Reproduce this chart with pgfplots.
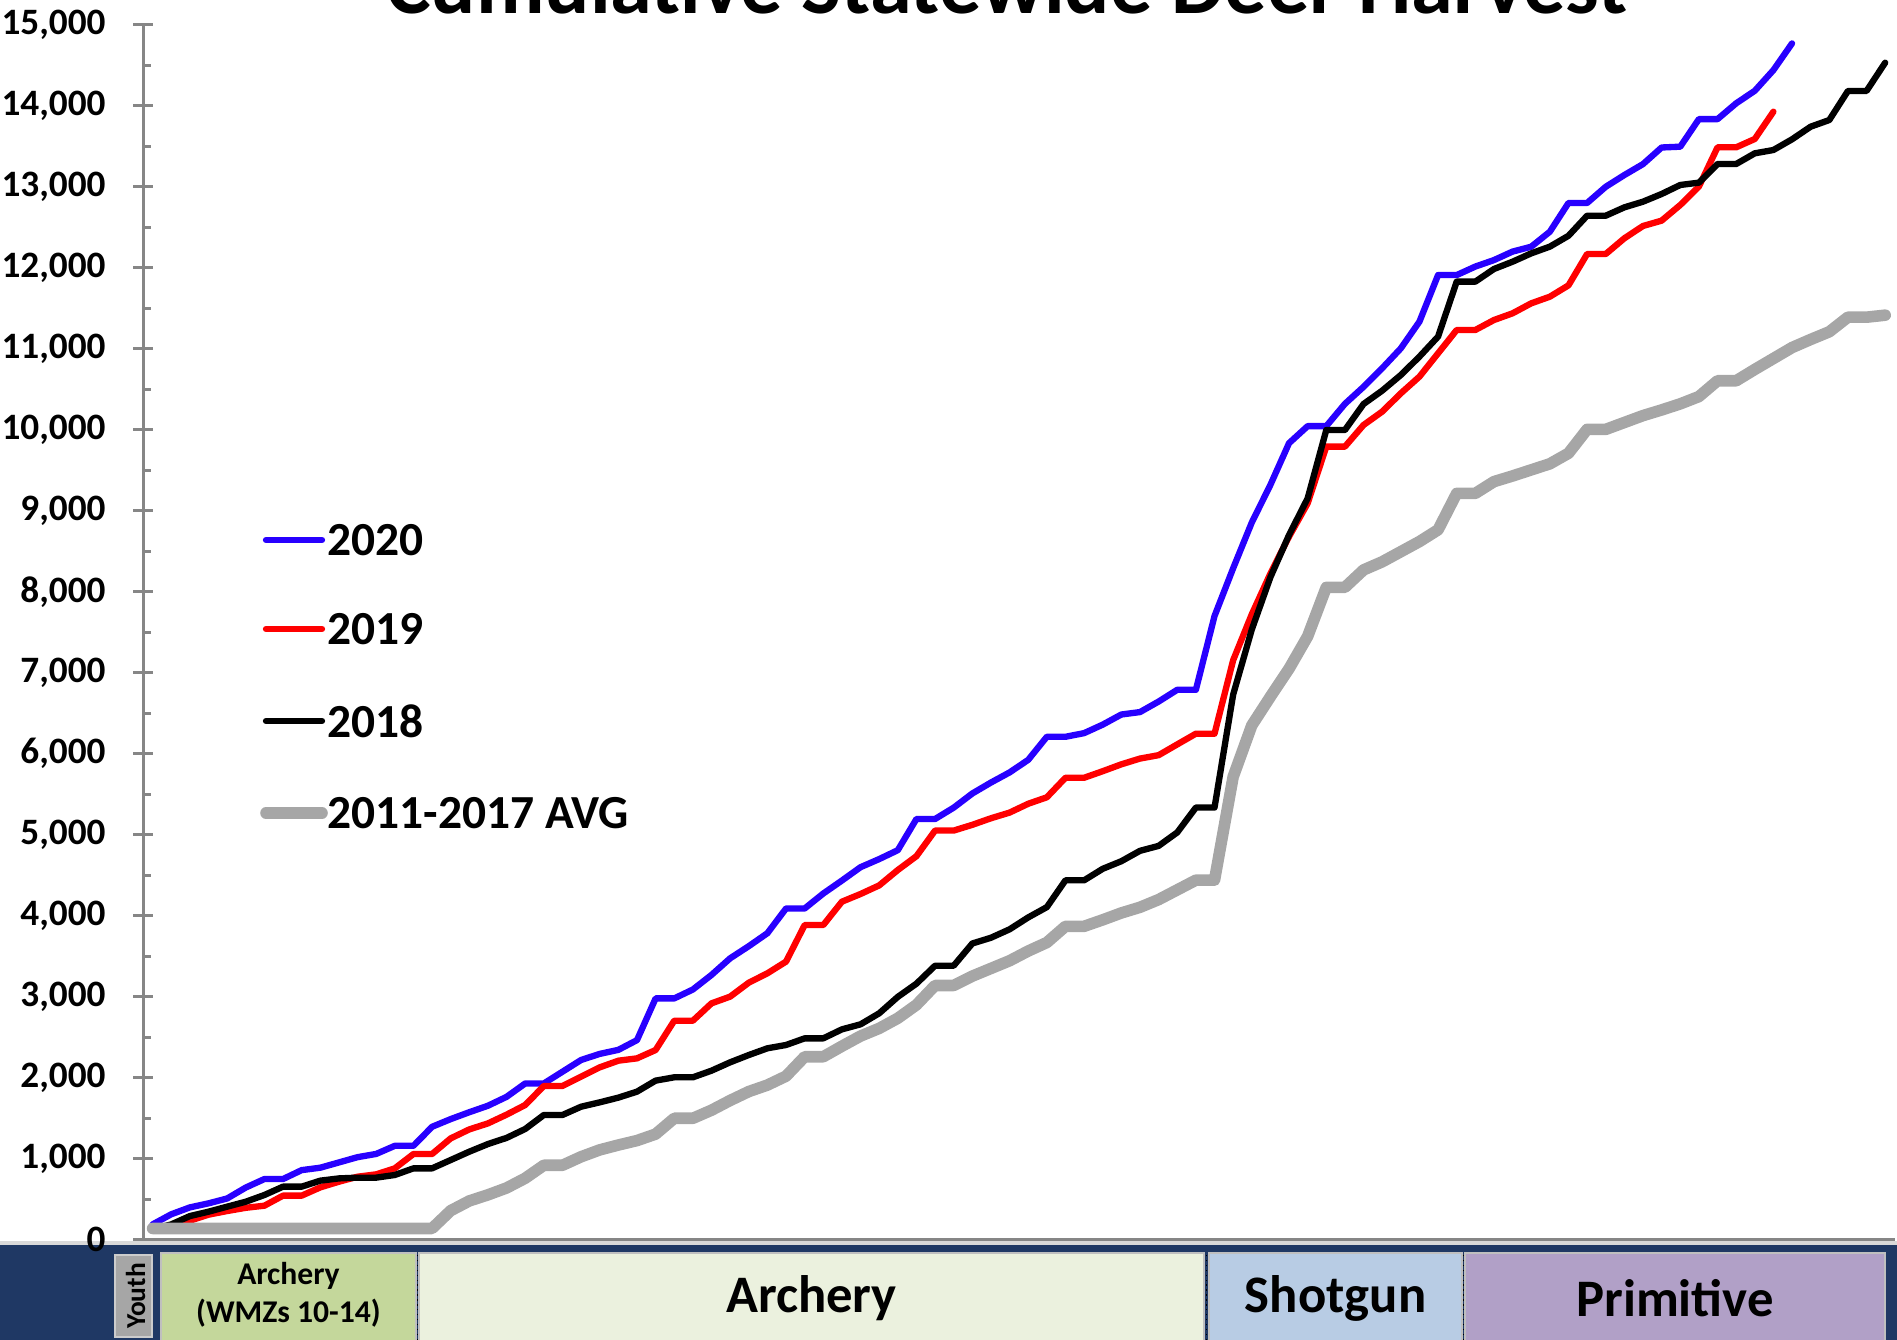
\documentclass[border=0pt]{standalone}
\usepackage{fontspec}
\setmainfont{Carlito}
\usepackage{pgfplots}
\usepackage{pgfplotstable}
\pgfplotsset{compat=1.18}

\definecolor{c2020}{HTML}{2800FF}
\definecolor{c2019}{HTML}{FF0000}
\definecolor{cavg}{HTML}{A6A6A6}
\definecolor{band}{HTML}{1F3864}
\definecolor{axgray}{HTML}{868686}
\definecolor{wmz}{HTML}{C4D79B}
\definecolor{arch}{HTML}{EBF1DE}
\definecolor{shot}{HTML}{B8CCE4}
\definecolor{prim}{HTML}{B1A0C7}

% day index, cumulative harvest
\pgfplotstableread[row sep=\\]{
i v\\
0 190\\ 1 315\\ 2 400\\ 3 450\\ 4 510\\ 5 645\\ 6 750\\ 7 750\\ 8 860\\ 9 890\\
10 955\\ 11 1020\\ 12 1060\\ 13 1160\\ 14 1160\\ 15 1395\\ 16 1490\\ 17 1575\\ 18 1655\\ 19 1765\\
20 1930\\ 21 1930\\ 22 2075\\ 23 2220\\ 24 2295\\ 25 2345\\ 26 2465\\ 27 2980\\ 28 2980\\ 29 3090\\
30 3270\\ 31 3475\\ 32 3625\\ 33 3785\\ 34 4090\\ 35 4090\\ 36 4275\\ 37 4435\\ 38 4600\\ 39 4700\\
40 4810\\ 41 5195\\ 42 5195\\ 43 5335\\ 44 5510\\ 45 5645\\ 46 5770\\ 47 5925\\ 48 6210\\ 49 6210\\
50 6255\\ 51 6360\\ 52 6485\\ 53 6515\\ 54 6645\\ 55 6790\\ 56 6790\\ 57 7700\\ 58 8290\\ 59 8855\\
60 9320\\ 61 9835\\ 62 10045\\ 63 10045\\ 64 10320\\ 65 10530\\ 66 10760\\ 67 11005\\ 68 11335\\ 69 11910\\
70 11910\\ 71 12015\\ 72 12095\\ 73 12200\\ 74 12260\\ 75 12445\\ 76 12800\\ 77 12800\\ 78 13000\\ 79 13145\\
80 13280\\ 81 13485\\ 82 13495\\ 83 13835\\ 84 13835\\ 85 14030\\ 86 14185\\ 87 14440\\ 88 14770\\
}\yrtwenty

\pgfplotstableread[row sep=\\]{
i v\\
0 140\\ 1 150\\ 2 236\\ 3 310\\ 4 355\\ 5 395\\ 6 421\\ 7 545\\ 8 545\\ 9 647\\
10 717\\ 11 779\\ 12 808\\ 13 882\\ 14 1059\\ 15 1059\\ 16 1252\\ 17 1363\\ 18 1437\\ 19 1545\\
20 1664\\ 21 1899\\ 22 1899\\ 23 2014\\ 24 2129\\ 25 2211\\ 26 2240\\ 27 2343\\ 28 2705\\ 29 2705\\
30 2919\\ 31 3002\\ 32 3174\\ 33 3290\\ 34 3434\\ 35 3886\\ 36 3886\\ 37 4174\\ 38 4269\\ 39 4375\\
40 4565\\ 41 4736\\ 42 5052\\ 43 5052\\ 44 5123\\ 45 5204\\ 46 5274\\ 47 5383\\ 48 5463\\ 49 5704\\
50 5704\\ 51 5785\\ 52 5870\\ 53 5941\\ 54 5983\\ 55 6116\\ 56 6248\\ 57 6248\\ 58 7155\\ 59 7722\\
60 8225\\ 61 8681\\ 62 9092\\ 63 9792\\ 64 9792\\ 65 10059\\ 66 10224\\ 67 10450\\ 68 10656\\ 69 10944\\
70 11232\\ 71 11232\\ 72 11355\\ 73 11438\\ 74 11561\\ 75 11643\\ 76 11783\\ 77 12170\\ 78 12170\\ 79 12364\\
80 12516\\ 81 12582\\ 82 12775\\ 83 13002\\ 84 13487\\ 85 13487\\ 86 13590\\ 87 13927\\
}\yrnineteen

\pgfplotstableread[row sep=\\]{
i v\\
0 130\\ 1 190\\ 2 293\\ 3 347\\ 4 409\\ 5 470\\ 6 553\\ 7 656\\ 8 656\\ 9 730\\
10 758\\ 11 767\\ 12 767\\ 13 800\\ 14 882\\ 15 882\\ 16 985\\ 17 1088\\ 18 1182\\ 19 1258\\
20 1368\\ 21 1541\\ 22 1541\\ 23 1643\\ 24 1697\\ 25 1755\\ 26 1829\\ 27 1965\\ 28 2006\\ 29 2006\\
30 2088\\ 31 2191\\ 32 2281\\ 33 2364\\ 34 2405\\ 35 2487\\ 36 2487\\ 37 2598\\ 38 2660\\ 39 2796\\
40 2999\\ 41 3162\\ 42 3384\\ 43 3384\\ 44 3658\\ 45 3729\\ 46 3833\\ 47 3980\\ 48 4107\\ 49 4438\\
50 4438\\ 51 4580\\ 52 4674\\ 53 4802\\ 54 4863\\ 55 5029\\ 56 5336\\ 57 5336\\ 58 6730\\ 59 7533\\
60 8180\\ 61 8701\\ 62 9154\\ 63 9997\\ 64 9997\\ 65 10318\\ 66 10483\\ 67 10676\\ 68 10903\\ 69 11150\\
70 11829\\ 71 11829\\ 72 11985\\ 73 12075\\ 74 12178\\ 75 12261\\ 76 12395\\ 77 12643\\ 78 12643\\ 79 12746\\
80 12816\\ 81 12911\\ 82 13022\\ 83 13051\\ 84 13281\\ 85 13281\\ 86 13413\\ 87 13454\\ 88 13586\\ 89 13742\\
90 13824\\ 91 14183\\ 92 14183\\ 93 14532\\
}\yreighteen

\pgfplotstableread[row sep=\\]{
i v\\
0 140\\ 1 140\\ 2 140\\ 3 140\\ 4 140\\ 5 140\\ 6 140\\ 7 140\\ 8 140\\ 9 140\\
10 140\\ 11 140\\ 12 140\\ 13 140\\ 14 140\\ 15 140\\ 16 360\\ 17 480\\ 18 555\\ 19 640\\
20 760\\ 21 920\\ 22 920\\ 23 1025\\ 24 1110\\ 25 1170\\ 26 1225\\ 27 1305\\ 28 1500\\ 29 1500\\
30 1600\\ 31 1720\\ 32 1830\\ 33 1910\\ 34 2020\\ 35 2260\\ 36 2260\\ 37 2390\\ 38 2515\\ 39 2610\\
40 2735\\ 41 2900\\ 42 3140\\ 43 3140\\ 44 3255\\ 45 3350\\ 46 3445\\ 47 3565\\ 48 3670\\ 49 3870\\
50 3870\\ 51 3950\\ 52 4035\\ 53 4105\\ 54 4200\\ 55 4320\\ 56 4440\\ 57 4440\\ 58 5715\\ 59 6350\\
60 6705\\ 61 7050\\ 62 7450\\ 63 8055\\ 64 8055\\ 65 8270\\ 66 8370\\ 67 8495\\ 68 8620\\ 69 8765\\
70 9215\\ 71 9215\\ 72 9360\\ 73 9430\\ 74 9505\\ 75 9580\\ 76 9710\\ 77 10005\\ 78 10005\\ 79 10090\\
80 10175\\ 81 10245\\ 82 10320\\ 83 10410\\ 84 10605\\ 85 10605\\ 86 10745\\ 87 10880\\ 88 11015\\ 89 11115\\
90 11210\\ 91 11390\\ 92 11390\\ 93 11415\\
}\avg

\begin{document}
\begin{tikzpicture}
\clip (0,0) rectangle (18.97,13.40);
\path[use as bounding box] (0,0) rectangle (18.97,13.40);

% season band
\fill[band] (0,0) rectangle (18.97,0.95);
\fill[black!15] (0,0.95) rectangle (18.97,0.99);
\filldraw[fill=cavg, draw=black!20, line width=0.5pt] (1.15,0.03) rectangle (1.52,0.85);
\filldraw[fill=wmz, draw=black!25, line width=0.5pt] (1.61,-0.1) rectangle (4.16,0.87);
\filldraw[fill=arch, draw=black!25, line width=0.5pt] (4.19,-0.1) rectangle (12.04,0.87);
\filldraw[fill=shot, draw=black!25, line width=0.5pt] (12.09,-0.1) rectangle (14.62,0.87);
\filldraw[fill=prim, draw=black!25, line width=0.5pt] (14.65,-0.1) rectangle (18.85,0.87);
\draw[black, densely dotted, line width=0.4pt] (4.175,0) -- (4.175,0.87);
\draw[black, densely dotted, line width=0.4pt] (12.065,0) -- (12.065,0.87);
\draw[black, densely dotted, line width=0.4pt] (14.635,0) -- (14.635,0.87);
\node[rotate=90, font=\bfseries\fontsize{7.8}{9}\selectfont] at (1.355,0.44) {Youth};
\node[font=\bfseries\fontsize{9}{10}\selectfont] at (2.885,0.64) {Archery};
\node[font=\bfseries\fontsize{9}{10}\selectfont] at (2.885,0.27) {(WMZs 10-14)};
\node[font=\bfseries\fontsize{15}{18}\selectfont] at (8.115,0.42) {Archery};
\node[font=\bfseries\fontsize{15}{18}\selectfont] at (13.355,0.42) {Shotgun};
\node[font=\bfseries\fontsize{15}{18}\selectfont] at (16.75,0.42) {Primitive};

% title, cut by the top edge as in the source
\node[anchor=base, font=\bfseries\fontsize{24}{28}\selectfont] at (10.07,13.26)
  {Cumulative Statewide Deer Harvest};

\begin{axis}[
  at={(1.433cm,1.002cm)}, anchor=south west,
  scale only axis, width=17.512cm, height=12.15cm,
  xmin=0, xmax=94, ymin=0, ymax=15000,
  axis x line*=bottom, axis y line*=left,
  axis line style={axgray, line width=0.9pt},
  xtick=\empty, minor xtick={0,1,...,94},
  ytick={0,1000,...,15000}, minor ytick={500,1500,...,14500},
  tick align=inside,
  major tick length=0.2cm, minor tick length=0.08cm,
  every tick/.style={axgray, line width=0.8pt},
  major y tick style={xshift=-0.1cm},
  scaled y ticks=false,
  yticklabel style={font=\bfseries\fontsize{10.6}{12}\selectfont, anchor=east, inner sep=0pt, xshift=-0.37cm},
  /pgf/number format/1000 sep={,},
  /pgf/number format/assume math mode=true,
  clip=false,
  every axis plot/.append style={line cap=round, line join=round},
]
\addplot[c2020, line width=1.8pt] table[x expr=\thisrow{i}+0.5, y=v] {\yrtwenty};
\addplot[c2019, line width=1.8pt] table[x expr=\thisrow{i}+0.5, y=v] {\yrnineteen};
\addplot[black, line width=1.8pt] table[x expr=\thisrow{i}+0.5, y=v] {\yreighteen};
\addplot[cavg, line width=3.3pt] table[x expr=\thisrow{i}+0.5, y=v] {\avg};
\end{axis}

% legend
\begin{scope}[font=\bfseries\fontsize{13.5}{16}\selectfont]
\draw[c2020, line width=1.8pt, line cap=round] (2.66,8.00) -- (3.22,8.00);
\node[anchor=west, inner sep=0pt] at (3.27,8.00) {2020};
\draw[c2019, line width=1.8pt, line cap=round] (2.66,7.11) -- (3.22,7.11);
\node[anchor=west, inner sep=0pt] at (3.27,7.11) {2019};
\draw[black, line width=1.8pt, line cap=round] (2.66,6.19) -- (3.22,6.19);
\node[anchor=west, inner sep=0pt] at (3.27,6.19) {2018};
\draw[cavg, line width=3.3pt, line cap=round] (2.66,5.27) -- (3.22,5.27);
\node[anchor=west, inner sep=0pt] at (3.27,5.27) {2011-2017 AVG};
\end{scope}
\end{tikzpicture}
\end{document}
